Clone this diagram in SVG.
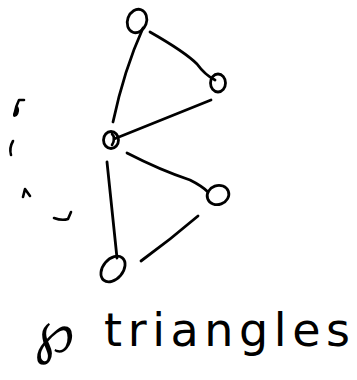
<svg xmlns="http://www.w3.org/2000/svg" width="357" height="380" viewBox="0 0 357 380">
<style>
.n{fill:none;stroke:#000;stroke-width:2.8}
.e{fill:none;stroke:#000;stroke-width:2.8;stroke-linecap:round;stroke-linejoin:round}
.m{fill:none;stroke:#000;stroke-width:2.6;stroke-linecap:round;stroke-linejoin:round}
.t{font-family:"DejaVu Sans","Liberation Sans",sans-serif;font-size:46px;fill:#000}
</style>
<rect width="357" height="380" fill="#fff"/>
<g id="edges">
<path class="e" d="M143 28 Q124 70 113 122"/>
<path class="e" d="M150 32 Q185 52 197 64 Q205 75 215 80"/>
<path class="e" d="M114 139 L211 100"/>
<path class="e" d="M127 153 Q160 170 190 180 Q202 186 208 192"/>
<path class="e" d="M107 162 Q112 210 117 258"/>
<path class="e" d="M198 216 Q170 240 141 261"/>
</g>
<g id="node-top"><ellipse class="n" cx="137" cy="21" rx="9.5" ry="12" transform="rotate(20 137 21)"/></g>
<g id="node-right"><ellipse class="n" cx="218" cy="83" rx="7.5" ry="9"/></g>
<g id="node-middle"><ellipse class="n" cx="111" cy="140" rx="7.5" ry="8.5"/><path class="m" d="M112 134 Q116 138 112 145"/></g>
<g id="node-lowright"><ellipse class="n" cx="218" cy="195" rx="11" ry="9.5" transform="rotate(-20 218 195)"/></g>
<g id="node-bottom"><ellipse class="n" cx="113" cy="269" rx="10" ry="14.5" transform="rotate(40 113 269)"/></g>
<g id="marks">
<path class="m" d="M24 100 L19 100 Q16 106 15 112 Q13 117 16 115 Q19 111 17 107"/>
<path class="m" d="M13 141 Q9 148 11 155"/>
<path class="m" d="M23 197 L25 189 L30 196"/>
<path class="m" d="M54 218 Q62 221 68 219 L71 212"/>
</g>
<g id="label">
<text class="t" x="34" y="352" style="font-size:58px">℘</text>
<text class="t" x="104" y="346" textLength="246" lengthAdjust="spacing">triangles</text>
</g>
</svg>
